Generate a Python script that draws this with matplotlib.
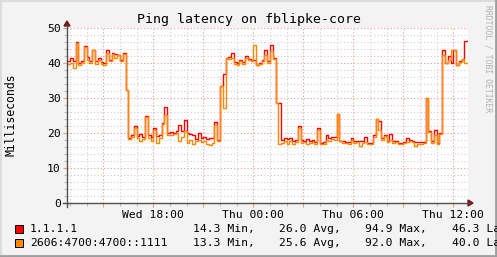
import numpy as np
import pandas as pd
import matplotlib
matplotlib.use('Agg')
import matplotlib.pyplot as plt
import matplotlib.dates as mdates
from matplotlib.patches import Rectangle, Polygon
from matplotlib.lines import Line2D

# 10 minute samples, Wed 12:50 -> Thu 12:50
start = '2024-05-15 12:50'
step = '10min'

rtt_v4 = [40.5,
          41.4, 40.5, 46.0, 40.0, 40.5, 44.8,
          41.8, 40.5, 43.8, 40.5, 41.5, 40.3,
          40.0, 43.8, 41.0, 43.0, 42.5, 42.4,
          41.0, 43.0, 32.4, 18.5, 19.5, 22.0,
          19.2, 19.8, 19.0, 24.8, 19.5, 19.0,
          21.4, 19.2, 19.5, 22.9, 27.3, 20.0,
          20.2, 20.0, 20.5, 22.4, 20.5, 23.8,
          20.0, 19.6, 19.5, 18.2, 20.0, 18.5,
          19.0, 18.2, 18.5, 18.5, 23.1, 18.0,
          33.3, 37.0, 41.4, 41.8, 42.9, 40.3,
          40.0, 41.0, 40.2, 42.0, 41.2, 41.0,
          41.0, 39.5, 40.0, 41.0, 43.8, 40.5,
          45.2, 41.4, 28.6, 28.5, 18.0, 18.5,
          18.2, 18.5, 17.8, 18.0, 21.9, 18.0,
          17.8, 18.2, 17.6, 18.0, 17.5, 21.4,
          17.2, 17.5, 19.5, 18.5, 18.8, 19.0,
          25.5, 17.8, 17.6, 17.5, 17.4, 18.5,
          17.6, 17.8, 17.6, 17.6, 19.0, 17.2,
          17.2, 19.5, 24.1, 23.5, 18.5, 19.5,
          17.6, 19.8, 17.6, 17.8, 17.1, 17.2,
          17.4, 18.5, 18.0, 17.8, 17.5, 17.5,
          17.3, 17.5, 30.0, 20.5, 17.6, 21.0,
          17.1, 20.0, 43.8, 40.0, 42.0, 40.0,
          43.8, 39.5, 40.5, 41.2, 46.3, 46.3]

rtt_v6 = [39.8,
          40.0, 38.6, 45.8, 39.5, 40.0, 44.5,
          41.0, 40.0, 43.6, 39.8, 41.0, 39.6,
          39.5, 42.8, 40.5, 42.5, 41.5, 42.4,
          40.6, 42.5, 32.4, 18.3, 19.0, 21.5,
          18.5, 17.6, 18.2, 24.5, 18.5, 17.8,
          21.0, 17.2, 18.5, 22.5, 25.2, 19.5,
          19.5, 19.8, 20.0, 17.6, 19.0, 20.5,
          17.2, 18.0, 17.0, 17.8, 18.0, 17.5,
          17.6, 17.0, 16.5, 17.2, 22.4, 17.6,
          33.3, 27.1, 41.4, 41.2, 41.5, 39.8,
          39.3, 40.5, 39.8, 41.5, 40.8, 40.5,
          45.2, 39.3, 39.6, 40.5, 42.4, 40.0,
          43.3, 41.2, 28.6, 17.0, 17.2, 17.6,
          17.0, 17.8, 17.0, 17.5, 21.5, 17.2,
          17.4, 17.0, 17.2, 17.4, 17.0, 21.0,
          16.8, 17.0, 18.0, 17.6, 18.2, 18.0,
          25.3, 17.6, 17.2, 17.2, 17.0, 18.0,
          17.2, 17.4, 16.2, 17.2, 17.5, 16.8,
          17.0, 19.0, 24.0, 21.0, 18.0, 19.2,
          17.3, 18.0, 17.2, 17.5, 16.9, 16.9,
          17.1, 17.5, 17.6, 17.5, 16.2, 16.8,
          17.0, 17.1, 30.0, 20.2, 17.2, 19.5,
          16.9, 19.8, 42.4, 40.0, 41.0, 43.8,
          43.6, 39.3, 40.3, 41.2, 40.0, 40.0]

names = ['1.1.1.1', '2606:4700:4700::1111']
colors = ['#FF0000', '#FF8800']
stats = [['14.3 Min,', '26.0 Avg,', '94.9 Max,', '46.3 Last'],
         ['13.3 Min,', '25.6 Avg,', '92.0 Max,', '40.0 Last']]

W, H = 497, 257
def fx(px):
    return px / W
def fy(py):
    return 1 - py / H

mono = 'DejaVu Sans Mono'
plt.rcParams['font.family'] = mono

fig = plt.figure(figsize=(W / 100, H / 100), dpi=100, facecolor='#F3F3F3')
ax = fig.add_axes([fx(67), fy(203), 401 / W, 175 / H])
ax.set_facecolor('white')

times = pd.date_range(start, periods=len(rtt_v4), freq=step)
t_end = pd.Timestamp('2024-05-16 12:53')
t_ext = list(times) + [t_end]

for vals, c in zip([rtt_v4, rtt_v6], colors):
    ax.plot(t_ext, vals + [vals[-1]], drawstyle='steps-post', color=c, lw=1.0, zorder=3)

ax.set_xlim(pd.Timestamp('2024-05-15 12:49'), t_end)
ax.set_ylim(0, 50)

ax.xaxis.set_major_locator(mdates.HourLocator(byhour=range(0, 24, 3)))
ax.xaxis.set_minor_locator(mdates.HourLocator())
fmt = mdates.DateFormatter('%a %H:%M')
def xlab(x, pos):
    d = mdates.num2date(x)
    return fmt(x, pos) if d.hour % 6 == 0 else ''
ax.xaxis.set_major_formatter(plt.FuncFormatter(xlab))
ax.set_yticks(np.arange(0, 51, 10))
ax.set_yticks(np.arange(0, 51, 2), minor=True)

dots = (0, (1, 2))
ax.grid(which='minor', color='#CFCFCF', ls=dots, lw=0.8)
ax.grid(which='major', color='#E49A9A', ls=dots, lw=0.8)
ax.tick_params(which='major', length=3, width=0.8, color='#E49A9A', labelsize=8.2, pad=1.5)
ax.tick_params(which='minor', length=2, width=0.8, color='#BBBBBB')
ax.tick_params(axis='x', pad=2)
for s in ax.spines.values():
    s.set_visible(False)

# axis lines and arrows
axis_c = '#505050'
arrow_c = '#7A1515'
fig.add_artist(Line2D([fx(67), fx(67)], [fy(207), fy(25)], color=axis_c, lw=1.0))
fig.add_artist(Line2D([fx(63), fx(469)], [fy(203), fy(203)], color=axis_c, lw=1.0))
fig.add_artist(Polygon([[fx(64), fy(26)], [fx(70), fy(26)], [fx(67), fy(21)]],
                       closed=True, color=arrow_c, transform=fig.transFigure))
fig.add_artist(Polygon([[fx(468), fy(200)], [fx(468), fy(206)], [fx(473), fy(203)]],
                       closed=True, color=arrow_c, transform=fig.transFigure))

fig.text(fx(249), fy(19), 'Ping latency on fblipke-core', ha='center', va='center', fontsize=9.5)
fig.text(fx(11), fy(115), 'Milliseconds', rotation=90, ha='center', va='center', fontsize=8.3)
fig.text(fx(488), fy(5), 'RRDTOOL / TOBI OETIKER', rotation=-90, ha='center', va='top',
         fontsize=5.8, color='#B0B0B0')

rows_y = [229, 243]
stat_x = [193, 279, 365, 452]
for name, c, st, ry in zip(names, colors, stats, rows_y):
    fig.add_artist(Rectangle((fx(15), fy(ry + 4)), 8 / W, 8 / H, facecolor=c,
                             edgecolor='black', lw=0.7, transform=fig.transFigure))
    fig.text(fx(30), fy(ry), name, ha='left', va='center', fontsize=8.2)
    for sx, s in zip(stat_x, st):
        fig.text(fx(sx), fy(ry), s, ha='left', va='center', fontsize=8.2)

# frame shading
fig.add_artist(Line2D([0, 1], [fy(1), fy(1)], color='#DCDCDC', lw=1.5))
fig.add_artist(Line2D([fx(1), fx(1)], [0, 1], color='#DCDCDC', lw=1.5))
fig.add_artist(Line2D([0, 1], [fy(255.5), fy(255.5)], color='#9E9E9E', lw=2))
fig.add_artist(Line2D([fx(495.5), fx(495.5)], [0, 1], color='#9E9E9E', lw=2))

fig.savefig('out.png', dpi=100, facecolor=fig.get_facecolor())
